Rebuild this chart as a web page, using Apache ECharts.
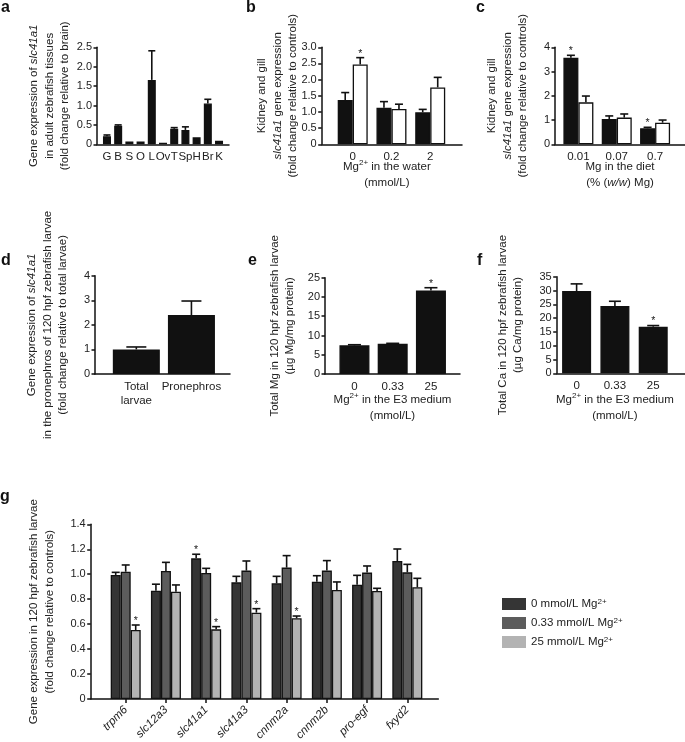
<!DOCTYPE html>
<html><head><meta charset="utf-8">
<script src="https://cdn.jsdelivr.net/npm/echarts@6/dist/echarts.min.js"></script>
<style>html,body{margin:0;padding:0;background:#fff}#c{width:685px;height:742px}</style>
</head><body><div id="c"></div>
<script>
// ---------- data ----------
const aCats = ['G','B','S','O','L','Ov','T','Sp','H','Br','K'];
const aMean = [0.21,0.48,0.07,0.07,1.66,0.04,0.40,0.37,0.18,1.05,0.09];
const aErr  = [0.03,0.02,0,0,0.75,0,0.03,0.08,0,0.11,0];

const bCats = ['0','0.2','2'];
const bFilled = [1.37,1.13,0.99];
const bFilledErr = [0.23,0.19,0.09];
const bFilledSig = [0,0,0];
const bOpen = [2.47,1.09,1.76];
const bOpenErr = [0.21,0.15,0.31];
const bOpenSig = [1,0,0];

const cCats = ['0.01','0.07','0.7'];
const cFilled = [3.57,1.04,0.66];
const cFilledErr = [0.10,0.13,0.04];
const cFilledSig = [1,0,1];
const cOpen = [1.73,1.10,0.89];
const cOpenErr = [0.26,0.15,0.11];
const cOpenSig = [0,0,0];

const dCats = ['Total\nlarvae','Pronephros'];
const dMean = [1.00,2.40];
const dErr = [0.10,0.57];

const eCats = ['0','0.33','25'];
const eMean = [7.44,7.87,21.7];
const eErr = [0.16,0.09,0.7];
const eSig = [0,0,1];

const fCats = ['0','0.33','25'];
const fMean = [29.8,24.4,16.9];
const fErr = [2.6,1.7,0.4];
const fSig = [0,0,1];

const gCats = ['trpm6','slc12a3','slc41a1','slc41a3','cnnm2a','cnnm2b','pro-egf','fxyd2'];
const gNames = ['0 mmol/L Mg2+','0.33 mmol/L Mg2+','25 mmol/L Mg2+'];
const g0 = [0.994,0.868,1.127,0.935,0.927,0.940,0.916,1.106];
const g0Err = [0.021,0.052,0.033,0.048,0.056,0.048,0.075,0.096];
const g0Sig = [0,0,1,0,0,0,0,0];
const g1 = [1.020,1.026,1.010,1.029,1.053,1.029,1.013,1.015];
const g1Err = [0.054,0.069,0.037,0.077,0.096,0.080,0.053,0.064];
const g1Sig = [0,0,0,0,0,0,0,0];
const g2 = [0.553,0.860,0.558,0.692,0.647,0.874,0.866,0.895];
const g2Err = [0.040,0.054,0.022,0.032,0.018,0.064,0.021,0.072];
const g2Sig = [1,0,1,1,1,0,0,0];

// ---------- styling ----------
const FONT = '"Liberation Sans", Arial, Helvetica, sans-serif';
const INK = '#111';
const TXT = '#222';
const NAME_FS = 11.5;
const richBase = {
  i: {fontStyle:'italic', fontSize:NAME_FS, fontFamily:FONT, color:TXT},
  sup: {fontSize:8, fontFamily:FONT, color:TXT, verticalAlign:'top'}
};

const grids = [], xAxes = [], yAxes = [], series = [];

function makeErr(offset, capHalf) {
  return function (params, api) {
    const x = api.value(0), y = api.value(1), e = api.value(2), s = api.value(3);
    const p0 = api.coord([x, y]);
    const p1 = api.coord([x, y + e]);
    const cx = p0[0] + offset;
    const ch = [];
    if (e > 0) {
      ch.push({type:'line', shape:{x1:cx, y1:p0[1], x2:cx, y2:p1[1]}, style:{stroke:INK, lineWidth:1.6}});
      ch.push({type:'line', shape:{x1:cx-capHalf, y1:p1[1], x2:cx+capHalf, y2:p1[1]}, style:{stroke:INK, lineWidth:1.6}});
    }
    if (s) {
      ch.push({type:'text', x:cx, y:p1[1]-4, style:{text:'*', fontSize:10.5, fontFamily:FONT, fill:TXT, align:'center', verticalAlign:'middle'}});
    }
    return {type:'group', children:ch};
  };
}

function addPanel(cfg) {
  const gi = grids.length;
  const idx = cfg.cats.map((_, i) => i);
  grids.push({left:cfg.left, top:cfg.top, width:cfg.width, height:cfg.height, containLabel:false, outerBoundsMode:'none'});
  xAxes.push({
    gridIndex:gi, type:'value', min:cfg.xMin, max:cfg.xMax,
    axisLine:{show:true, onZero:false, lineStyle:{color:INK, width:1.5}},
    axisTick: cfg.xTick ? {show:true, length:4, customValues:idx, lineStyle:{color:INK, width:1.5}} : {show:false},
    splitLine:{show:false},
    axisLabel:{customValues:idx, formatter:(v) => cfg.cats[Math.round(v)], fontSize:NAME_FS, fontFamily:FONT, color:TXT,
      margin:cfg.xLabelMargin || 6, rotate:cfg.xRotate || 0, fontStyle:cfg.xItalic ? 'italic' : 'normal', lineHeight:14},
    name:cfg.xName || '', nameLocation:'middle', nameGap:cfg.xNameGap || 14, nameMoveOverlap:false,
    nameTextStyle:{fontSize:NAME_FS, fontFamily:FONT, color:TXT, lineHeight:16.5, padding:cfg.xNamePad || 0,
      rich:{i:Object.assign({}, richBase.i, {lineHeight:16.5}), sup:richBase.sup}}
  });
  yAxes.push({
    gridIndex:gi, type:'value', min:0, max:cfg.yMax, interval:cfg.yInt,
    axisLine:{show:true, onZero:false, lineStyle:{color:INK, width:1.5}},
    axisTick:{show:true, length:3.5, lineStyle:{color:INK, width:1.5}},
    splitLine:{show:false},
    axisLabel:{formatter:(v) => v === 0 ? '0' : v.toFixed(cfg.dec), fontSize:11, fontFamily:FONT, color:TXT, margin:5},
    name:cfg.yName, nameLocation:'middle', nameRotate:90, nameGap:cfg.yNameGap, nameMoveOverlap:false,
    nameTextStyle:{fontSize:NAME_FS, fontFamily:FONT, color:TXT, lineHeight:15.5,
      rich:{i:Object.assign({}, richBase.i, {lineHeight:15.5})}}
  });
  const n = cfg.groups.length;
  cfg.groups.forEach((g, k) => {
    const off = (k - (n - 1) / 2) * cfg.barWidth;
    series.push({
      type:'bar', name:g.name, xAxisIndex:gi, yAxisIndex:gi, barWidth:cfg.barWidth, barGap:'0%',
      data:g.mean.map((v, i) => [i, v]),
      itemStyle:{color:g.color, borderColor:INK, borderWidth:1.3},
      emphasis:{disabled:true}, z:2, silent:true
    });
    series.push({
      type:'custom', name:(g.name || 's') + ' err', xAxisIndex:gi, yAxisIndex:gi, clip:false, z:3, silent:true,
      encode:{x:0, y:1},
      data:g.mean.map((v, i) => [i, v, g.err[i], g.sig ? g.sig[i] : 0]),
      renderItem:makeErr(off, cfg.cap)
    });
  });
}

// a
addPanel({left:97, top:47.3, width:132, height:97, xMin:-0.89, xMax:10.89, yMax:2.5, yInt:0.5, dec:1,
  cats:aCats, barWidth:8, cap:3.5, yNameGap:24,
  yName:'Gene expression of {i|slc41a1}\nin adult zebrafish tissues\n(fold change relative to brain)',
  groups:[{name:'a', mean:aMean, err:aErr, color:'#111'}]});
// b
addPanel({left:321.7, top:47.3, width:140.3, height:97, xMin:-0.80, xMax:2.82, yMax:3, yInt:0.5, dec:1,
  cats:bCats, barWidth:15, cap:4, yNameGap:21, xNameGap:14, xNamePad:[0,10,0,0],
  xName:'Mg{sup|2+} in the water\n(mmol/L)',
  yName:'Kidney and gill\n{i|slc41a1} gene expression\n(fold change relative to controls)',
  groups:[{name:'b1', mean:bFilled, err:bFilledErr, sig:bFilledSig, color:'#111'},
          {name:'b2', mean:bOpen, err:bOpenErr, sig:bOpenSig, color:'#fff'}]});
// c
addPanel({left:555, top:47.3, width:130, height:97, xMin:-0.61, xMax:2.78, yMax:4, yInt:1, dec:0,
  cats:cCats, barWidth:15, cap:4, yNameGap:24, xNameGap:14,
  xName:'Mg in the diet\n(% ({i|w/w}) Mg)',
  yName:'Kidney and gill\n{i|slc41a1} gene expression\n(fold change relative to controls)',
  groups:[{name:'c1', mean:cFilled, err:cFilledErr, sig:cFilledSig, color:'#111'},
          {name:'c2', mean:cOpen, err:cOpenErr, sig:cOpenSig, color:'#fff'}]});
// d
addPanel({left:95, top:275.7, width:135, height:98.3, xMin:-0.75, xMax:1.7, yMax:4, yInt:1, dec:0,
  cats:dCats, barWidth:47, cap:10, yNameGap:24,
  yName:'Gene expression of {i|slc41a1}\nin the pronephros of 120 hpf zebrafish larvae\n(fold change relative to total larvae)',
  groups:[{name:'d', mean:dMean, err:dErr, color:'#111'}]});
// e
addPanel({left:325, top:277.7, width:135, height:96.3, xMin:-0.77, xMax:2.76, yMax:25, yInt:5, dec:0,
  cats:eCats, barWidth:30, cap:6.5, yNameGap:27, xNameGap:17.5,
  xName:'Mg{sup|2+} in the E3 medium\n(mmol/L)',
  yName:'Total Mg in 120 hpf zebrafish larvae\n(µg Mg/mg protein)',
  groups:[{name:'e', mean:eMean, err:eErr, sig:eSig, color:'#111'}]});
// f
addPanel({left:556.7, top:276.7, width:128.3, height:96.6, xMin:-0.52, xMax:2.83, yMax:35, yInt:5, dec:0,
  cats:fCats, barWidth:29, cap:6, yNameGap:31, xNameGap:18, xNamePad:[0,12,0,0],
  xName:'Mg{sup|2+} in the E3 medium\n(mmol/L)',
  yName:'Total Ca in 120 hpf zebrafish larvae\n(µg Ca/mg protein)',
  groups:[{name:'f', mean:fMean, err:fErr, sig:fSig, color:'#111'}]});
// g
addPanel({left:90.7, top:524.3, width:347.6, height:174.7, xMin:-0.87, xMax:7.77, yMax:1.4, yInt:0.2, dec:1,
  cats:gCats, barWidth:10, cap:4, yNameGap:33.5, xTick:true, xRotate:45, xItalic:true, xLabelMargin:9,
  yName:'Gene expression in 120 hpf zebrafish larvae\n(fold change relative to controls)',
  groups:[{name:gNames[0], mean:g0, err:g0Err, sig:g0Sig, color:'#353535'},
          {name:gNames[1], mean:g1, err:g1Err, sig:g1Sig, color:'#5c5c5c'},
          {name:gNames[2], mean:g2, err:g2Err, sig:g2Sig, color:'#b3b3b3'}]});

const letterFont = 'bold 16px ' + FONT;
const letters = [['a',1,0],['b',246,0],['c',476,0],['d',1,253],['e',248,253],['f',477,253],['g',0,489]];

const option = {
  animation:false,
  backgroundColor:'#fff',
  grid:grids, xAxis:xAxes, yAxis:yAxes, series:series,
  legend:{
    data:gNames, orient:'vertical', left:502, top:597.5, padding:0, itemGap:6,
    itemWidth:24, itemHeight:12, icon:'rect', selectedMode:false,
    itemStyle:{borderWidth:0},
    formatter:(nm) => nm.replace('Mg2+', 'Mg{sup|2+}'),
    textStyle:{fontSize:11.5, fontFamily:FONT, color:TXT, lineHeight:13,
      rich:{sup:{fontSize:8, fontFamily:FONT, color:TXT, verticalAlign:'top'}}}
  },
  graphic:letters.map(([t, x, y]) => ({type:'text', x:x, y:y, silent:true,
    style:{text:t, font:letterFont, fill:'#111', verticalAlign:'top'}}))
};

const chart = echarts.init(document.getElementById('c'), null, {renderer:'canvas'});
chart.setOption(option);
</script>
</body></html>
